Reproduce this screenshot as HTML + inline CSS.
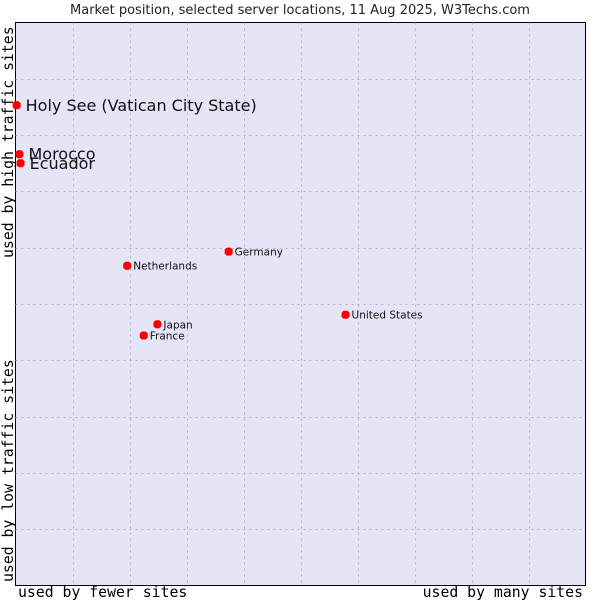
<!DOCTYPE html>
<html><head><meta charset="utf-8"><style>
body{margin:0;background:#fff;}
svg{display:block;}
</style></head><body>
<svg id="chart" width="600" height="600" xmlns="http://www.w3.org/2000/svg">
<rect width="600" height="600" fill="#fff"/>
<text x="300" y="14" text-anchor="middle" font-family="DejaVu Sans, sans-serif" font-size="13" fill="#222">Market position, selected server locations, 11 Aug 2025, W3Techs.com</text>
<rect x="15.5" y="22.5" width="570" height="563" fill="#e4e6f8" stroke="#000" stroke-width="1"/>
<g id="grid"></g>
<g id="points"></g>
<text x="18" y="597" font-family="DejaVu Sans Mono, monospace" font-size="14.8" fill="#000">used by fewer sites</text>
<text x="583" y="597" text-anchor="end" font-family="DejaVu Sans Mono, monospace" font-size="14.8" fill="#000">used by many sites</text>
<text transform="translate(13,582) rotate(-90)" font-family="DejaVu Sans Mono, monospace" font-size="14.8" fill="#000">used by low traffic sites</text>
<text transform="translate(13,258) rotate(-90)" font-family="DejaVu Sans Mono, monospace" font-size="14.8" fill="#000">used by high traffic sites</text>
</svg>
<script>
const names=["Holy See (Vatican City State)","Morocco","Ecuador","Germany","Netherlands","United States","Japan","France"];
const xValues=[0.2,0.7,0.9,37.4,19.6,57.9,24.9,22.5];
const yValues=[85.3,76.6,75.0,59.3,56.8,48.1,46.4,44.4];
const labelSizes=[16,16,16,11,11,11,11,11];
const NS="http://www.w3.org/2000/svg";
const X0=15.5,X1=585.5,Y0=585.5,Y1=22.5;
const sx=v=>X0+(X1-X0)*v/100;
const sy=v=>Y0-(Y0-Y1)*v/100;
const grid=document.getElementById('grid');
for(let i=1;i<10;i++){
  const v=document.createElementNS(NS,'line');
  
  
  const x=Math.round(sx(i*10))+0.5;
  v.setAttribute('x1',x);v.setAttribute('x2',x);v.setAttribute('y1',Y1);v.setAttribute('y2',Y0);
  v.setAttribute('stroke','#b4b4b4');v.setAttribute('stroke-dasharray','2,4');
  grid.appendChild(v);
  const h=document.createElementNS(NS,'line');
  
  
  const y=Math.round(sy(i*10))+0.5;
  h.setAttribute('x1',X0);h.setAttribute('x2',X1);h.setAttribute('y1',y);h.setAttribute('y2',y);
  h.setAttribute('stroke','#b4b4b4');h.setAttribute('stroke-dasharray','2,4');
  grid.appendChild(h);
}
const pts=document.getElementById('points');
names.forEach((n,i)=>{
  const x=sx(xValues[i]),y=sy(yValues[i]);
  const d=document.createElementNS(NS,'path');
  
  
  d.setAttribute('d',`M${x-2} ${y-4}L${x+2} ${y-4}L${x+4} ${y-2}L${x+4} ${y+2}L${x+2} ${y+4}L${x-2} ${y+4}L${x-4} ${y+2}L${x-4} ${y-2}Z`);
  d.setAttribute('fill','#f00');
  pts.appendChild(d);
  const t=document.createElementNS(NS,'text');
  
  
  const big=labelSizes[i]>12;
  t.setAttribute('x',x+(big?9:6));
  t.setAttribute('y',y+(big?5.5:4));
  t.setAttribute('font-family','DejaVu Sans, sans-serif');
  t.setAttribute('font-size',big?labelSizes[i]:10.5);
  t.setAttribute('fill','#111');
  t.textContent=n;
  pts.appendChild(t);
});
</script>
</body></html>
